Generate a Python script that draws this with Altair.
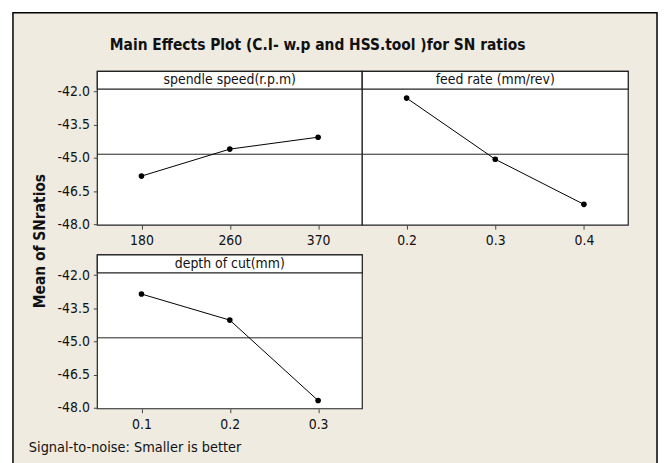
import altair as alt
import pandas as pd

# ---- data ----
speed_levels = ["180", "260", "370"]
speed_sn = [-45.82, -44.60, -44.06]

feed_levels = ["0.2", "0.3", "0.4"]
feed_sn = [-42.29, -45.06, -47.10]

depth_levels = ["0.1", "0.2", "0.3"]
depth_sn = [-42.85, -44.03, -47.67]

y_ticks = [-48.0, -46.5, -45.0, -43.5, -42.0]
y_domain = [-48.04, -41.08]

chart_title = "Main Effects Plot (C.I- w.p and HSS.tool )for SN ratios"
y_title = "Mean of SNratios"
footer = "Signal-to-noise: Smaller is better"

grand_mean = sum(speed_sn + feed_sn + depth_sn) / 9.0

FONT = "DejaVu Sans Condensed, DejaVu Sans"
BEIGE = "#EFEBE1"
W, H = 267, 155
one = pd.DataFrame({"a": [0]})
mean_df = pd.DataFrame({"value": [grand_mean]})
yscale = alt.Scale(domain=y_domain, nice=False, zero=False)


def panel(levels, values, strip, show_y, width=W, extras=()):
    df = pd.DataFrame({"level": levels, "value": values})
    if show_y:
        yaxis = alt.Axis(
            values=y_ticks, format=".1f",
            labelExpr="replace(datum.label, '\u2212', '-')",
            tickSize=4, tickColor="#444", labelPadding=4, domain=False, grid=False,
            labelFont=FONT, labelFontSize=14, labelColor="#111", zindex=1, title=None,
        )
    else:
        yaxis = None
    xenc = alt.X("level:O", sort=levels, scale=alt.Scale(type="point", padding=0.5),
                 axis=alt.Axis(labelAngle=0, tickSize=4, tickColor="#444", labelPadding=5,
                               domain=False, grid=False, labelFont=FONT, labelFontSize=14,
                               labelColor="#111", zindex=1, title=None))
    yenc = alt.Y("value:Q", scale=yscale, axis=yaxis)

    bg = alt.Chart(one).mark_rect(fill="white", stroke="#222", strokeWidth=1.2).encode(
        x=alt.value(0), x2=alt.value(width), y=alt.value(0), y2=alt.value(H))
    strip_rect = alt.Chart(one).mark_rect(fill="white", stroke="#222", strokeWidth=1.2).encode(
        x=alt.value(0), x2=alt.value(width), y=alt.value(0), y2=alt.value(18))
    strip_text = alt.Chart(one).mark_text(font=FONT, fontSize=14, color="#111",
                                          baseline="middle", align="center").encode(
        x=alt.value(width / 2), y=alt.value(9), text=alt.value(strip))
    mean_rule = alt.Chart(mean_df).mark_rule(color="#222", strokeWidth=1).encode(
        y=alt.Y("value:Q", scale=yscale, axis=yaxis), x=alt.value(0), x2=alt.value(width))
    base = alt.Chart(df)
    line = base.mark_line(color="black", strokeWidth=1).encode(x=xenc, y=yenc)
    pts = base.mark_circle(color="black", opacity=1, size=32).encode(x=xenc, y=yenc)
    layers = list(extras) + [bg, strip_rect, strip_text, mean_rule, line, pts]
    return alt.layer(*layers).properties(width=width, height=H)


frame = alt.Chart(one).mark_rect(fill=BEIGE, stroke="black", strokeWidth=1.5).encode(
    x=alt.value(-85), x2=alt.value(564), y=alt.value(-59), y2=alt.value(410))
title_txt = alt.Chart(one).mark_text(font=FONT, fontSize=15.5, fontWeight="bold", color="#111",
                                     align="center", baseline="middle").encode(
    x=alt.value(222), y=alt.value(-27), text=alt.value(chart_title))
ytitle_txt = alt.Chart(one).mark_text(font=FONT, fontSize=15.5, fontWeight="bold", color="#111",
                                      align="center", baseline="middle", angle=270).encode(
    x=alt.value(-58), y=alt.value(171), text=alt.value(y_title))
footer_txt = alt.Chart(one).mark_text(font=FONT, fontSize=14.5, color="#111",
                                      align="left", baseline="middle").encode(
    x=alt.value(-69), y=alt.value(195), text=alt.value(footer))

tl = panel(speed_levels, speed_sn, "spendle speed(r.p.m)", True,
           extras=(frame, title_txt, ytitle_txt))
tr = panel(feed_levels, feed_sn, "feed rate (mm/rev)", False, width=268)
bl = panel(depth_levels, depth_sn, "depth of cut(mm)", True, extras=(footer_txt,))

chart = alt.concat(tl, tr, bl, columns=2, spacing=0).properties(
    bounds="flush",
    padding={"left": 4, "top": 2, "right": 0, "bottom": 0},
    background="white",
).configure_view(strokeWidth=0)
chart.spacing = {"row": 30, "column": 0}

chart.save("out.html", embed_options={"renderer": "svg", "actions": False})
